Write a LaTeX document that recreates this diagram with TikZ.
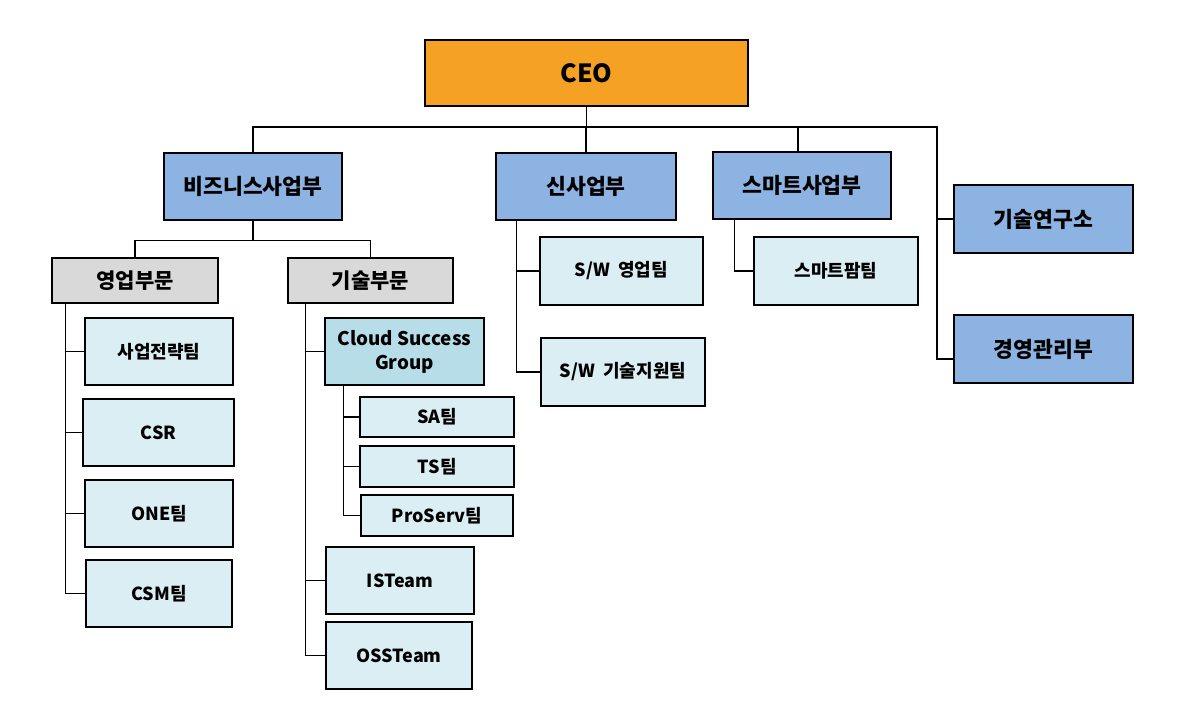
\documentclass[tikz,border=0pt]{standalone}
\usepackage{fontspec}
\setmainfont{Noto Sans CJK KR}
\definecolor{ceoorange}{RGB}{245,161,35}
\definecolor{deptblue}{RGB}{141,179,226}
\definecolor{divgray}{RGB}{217,217,217}
\definecolor{teamblue}{RGB}{219,238,243}
\definecolor{grpblue}{RGB}{183,221,232}
\tikzset{
  box/.style={draw, line width=0.6pt, rectangle, align=center, inner sep=0pt, font=\bfseries\fontsize{9}{11}\selectfont},
  sz/.style 2 args={minimum width=#1*0.5pt, minimum height=#2*0.5pt},
  dept/.style={box, fill=deptblue, font=\bfseries\fontsize{10.8}{12}\selectfont},
  div/.style={box, fill=divgray, font=\bfseries\fontsize{10.5}{12}\selectfont},
  team/.style={box, fill=teamblue},
  link/.style={line width=0.55pt}
}
\begin{document}
\begin{tikzpicture}[x=0.5pt, y=-0.5pt]
  \useasboundingbox (0,0) rectangle (1181,723);
  % top level
  \node[box, fill=ceoorange, sz={323}{66}, font=\bfseries\fontsize{12.5}{14}\selectfont] (ceo) at (586.5,73) {CEO};
  \node[dept, sz={178}{67}] (biz) at (253,186.5) {비즈니스사업부};
  \node[dept, sz={180}{67}] (new) at (586,186.5) {신사업부};
  \node[dept, sz={178}{67}] (smart) at (802,185.5) {스마트사업부};
  \node[dept, sz={179}{68}] (lab) at (1043.5,219) {기술연구소};
  \node[dept, sz={179}{68}] (mgmt) at (1043.5,349) {경영관리부};
  % business divisions
  \node[div, sz={166}{45}] (sales) at (135,280.5) {영업부문};
  \node[div, sz={165}{45}] (tech) at (370.5,280.5) {기술부문};
  \node[team, sz={148}{67}] (s1) at (159,351.5) {사업전략팀};
  \node[team, sz={151}{67}] (s2) at (158.5,432.5) {CSR};
  \node[team, sz={148}{67}] (s3) at (159,513.5) {ONE팀};
  \node[team, sz={146}{67}] (s4) at (159,593.5) {CSM팀};
  \node[box, fill=grpblue, sz={159}{67}, font=\bfseries\fontsize{9.4}{12}\selectfont] (csg) at (404.5,351.5) {Cloud Success\\Group};
  \node[team, sz={154}{40}] (sa) at (437,417) {SA팀};
  \node[team, sz={154}{41}] (ts) at (437,466.5) {TS팀};
  \node[team, sz={152}{41}] (ps) at (437,515.5) {ProServ팀};
  \node[team, sz={148}{67}] (is) at (400,580.5) {ISTeam};
  \node[team, sz={146}{67}] (oss) at (399,655.5) {OSSTeam};
  % new business / smart
  \node[team, sz={163}{68}] (n1) at (621.5,271) {S/W\ \ 영업팀};
  \node[team, sz={164}{68}] (n2) at (623,372) {S/W\ \ 기술지원팀};
  \node[team, sz={164}{68}] (m1) at (836,271) {스마트팜팀};

  % connectors
  \coordinate (bus) at (937,127);
  \draw[link] (ceo.south) -- (ceo.south |- bus);
  \draw[link] (biz.north) |- (bus) |- ([yshift=-5pt]mgmt.west);
  \draw[link] (bus |- lab.west) -- (lab.west);
  \draw[link] (new.north) -- (new.north |- bus);
  \draw[link] ([xshift=-2pt]smart.north) -- ([xshift=-2pt]smart.north |- bus);

  \coordinate (bb) at ([yshift=-10pt]biz.south);
  \draw[link] (biz.south) -- (bb);
  \draw[link] (sales.north) |- (bb) -| (tech.north);

  \coordinate (sv) at ([xshift=7pt]sales.south west);
  \draw[link] (sv) |- (s4.west);
  \foreach \t in {s1,s2,s3} \draw[link] (sv |- \t.west) -- (\t.west);

  \coordinate (tv) at ([xshift=9pt]tech.south west);
  \draw[link] (tv) |- (oss.west);
  \foreach \t in {csg,is} \draw[link] (tv |- \t.west) -- (\t.west);

  \coordinate (cv) at ([xshift=9.5pt]csg.south west);
  \draw[link] (cv) |- (ps.west);
  \foreach \t in {sa,ts} \draw[link] (cv |- \t.west) -- (\t.west);

  \coordinate (nv) at ([xshift=10.5pt]new.south west);
  \draw[link] (nv) |- (n2.west);
  \draw[link] (nv |- n1.west) -- (n1.west);

  \coordinate (mv) at ([xshift=11pt]smart.south west);
  \draw[link] (mv) |- (m1.west);
\end{tikzpicture}
\end{document}
